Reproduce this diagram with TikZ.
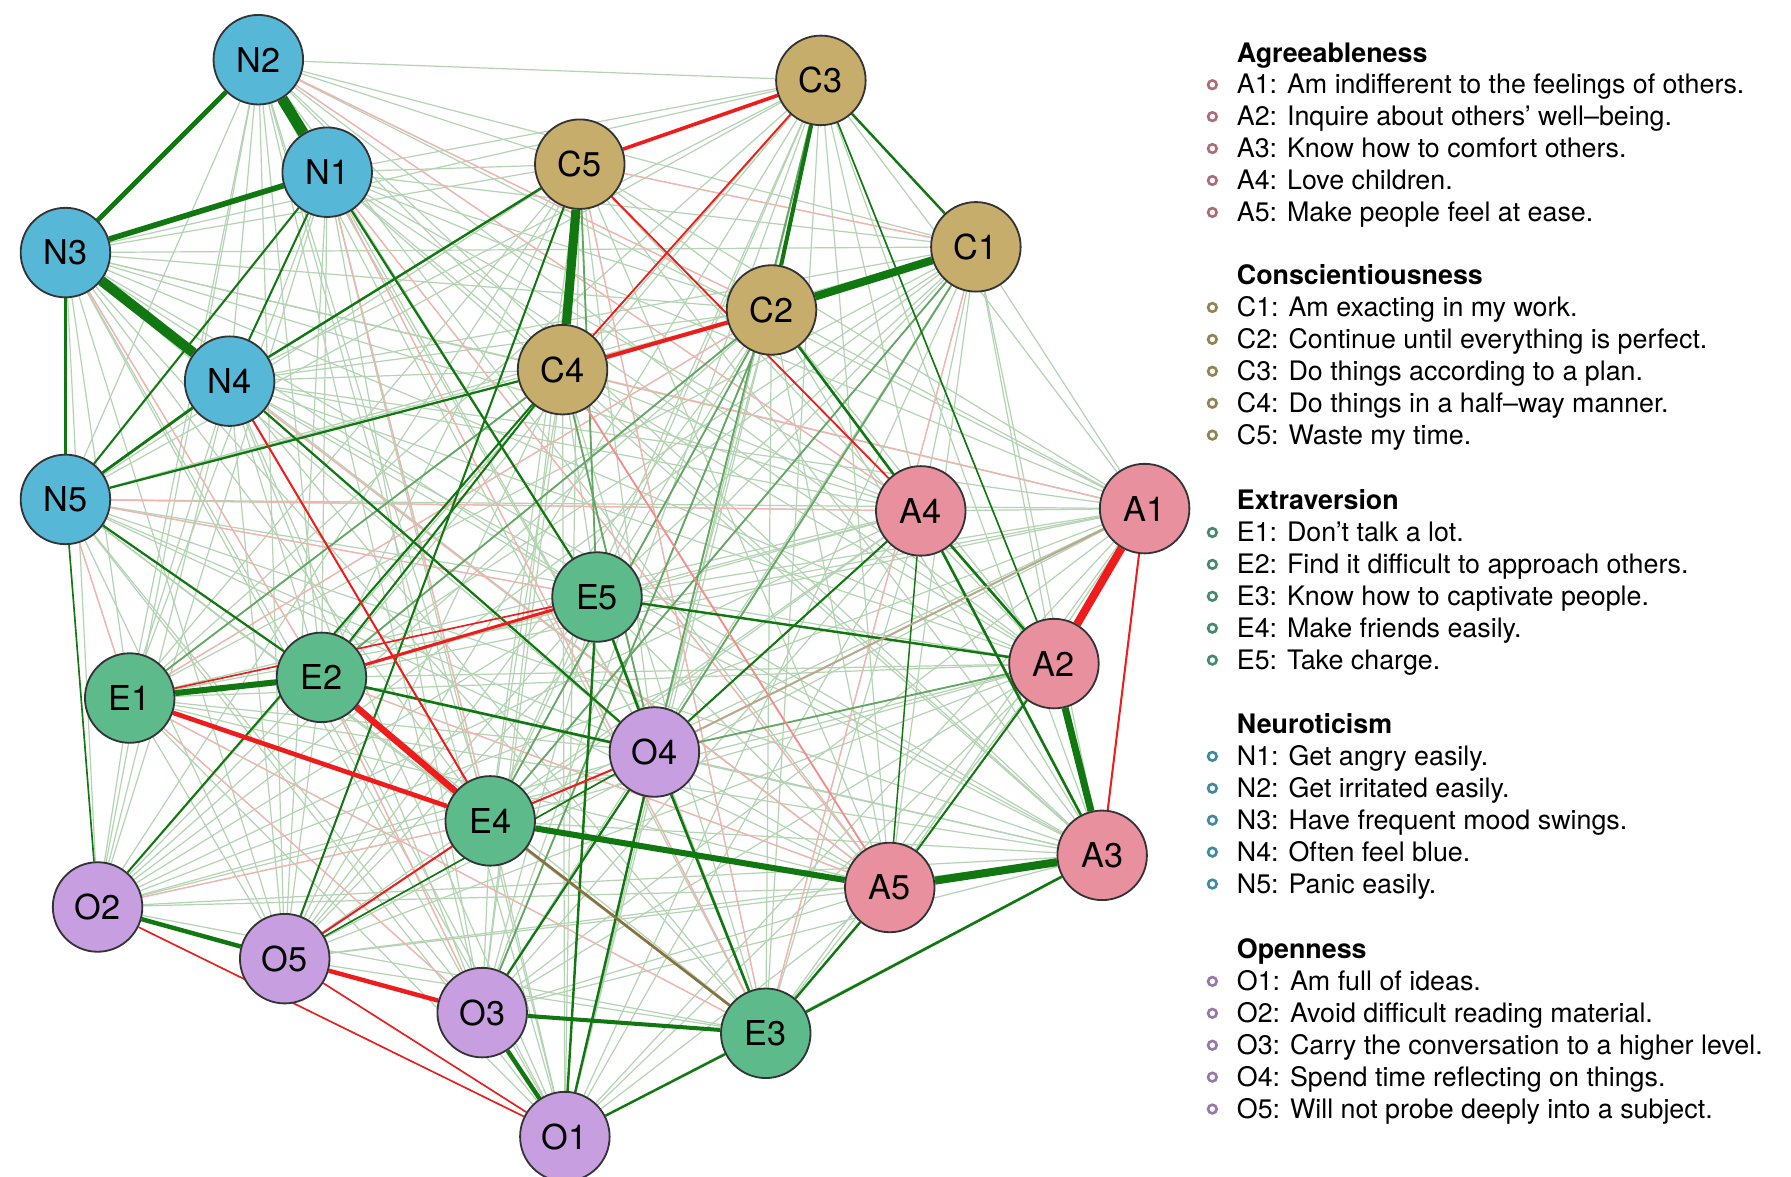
\documentclass[tikz,border=0pt]{standalone}
\usepackage{fontspec}
\setmainfont{TeX Gyre Heros}
\usepackage{tikz}
\usetikzlibrary{backgrounds}
\definecolor{agrcol}{HTML}{E8909E}
\definecolor{concol}{HTML}{C6AD6C}
\definecolor{extcol}{HTML}{5CBA8B}
\definecolor{neucol}{HTML}{56B8D6}
\definecolor{opecol}{HTML}{C79FE0}
\definecolor{posgreen}{HTML}{117711}
\definecolor{negred}{HTML}{EE1C1C}
\definecolor{mixbrown}{HTML}{8A7040}
\tikzset{
	item node/.style={circle,draw=black!80,line width=0.9pt,minimum size=1.56cm,inner sep=0pt,
		font=\fontsize{17}{17}\selectfont},
	pos/.style={draw=posgreen,line width=#1},
	neg/.style={draw=negred,line width=#1},
	mid/.style={draw=posgreen!65,line width=0.9pt},
	midneg/.style={draw=negred!50,line width=0.9pt},
	faint/.style={draw=posgreen!32,line width=0.6pt},
	faintneg/.style={draw=negred!35,line width=0.6pt},
	legend head/.style={anchor=base west,inner sep=0pt,font=\fontsize{13.3}{14}\selectfont\bfseries},
	legend item/.style={anchor=base west,inner sep=0pt,font=\fontsize{13.3}{14}\selectfont},
	legend dot/.style={circle,draw=#1,line width=1.3pt,minimum size=0.15cm,inner sep=0pt}
}

\begin{document}
\begin{tikzpicture}[x=0.02cm,y=-0.02cm]
	\useasboundingbox (0,0) rectangle (1560,1025);
	% nodes
	\node [item node,fill=neucol] (N2) at (225,52) {N2};
	\node [item node,fill=neucol] (N1) at (285,150) {N1};
	\node [item node,fill=neucol] (N3) at (57,220) {N3};
	\node [item node,fill=neucol] (N4) at (200,332) {N4};
	\node [item node,fill=neucol] (N5) at (57,435) {N5};
	\node [item node,fill=concol] (C3) at (715,70) {C3};
	\node [item node,fill=concol] (C5) at (505,143) {C5};
	\node [item node,fill=concol] (C1) at (850,215) {C1};
	\node [item node,fill=concol] (C2) at (672,270) {C2};
	\node [item node,fill=concol] (C4) at (490,322) {C4};
	\node [item node,fill=agrcol] (A4) at (802,445) {A4};
	\node [item node,fill=agrcol] (A1) at (997,443) {A1};
	\node [item node,fill=agrcol] (A2) at (918,578) {A2};
	\node [item node,fill=agrcol] (A3) at (960,745) {A3};
	\node [item node,fill=agrcol] (A5) at (775,773) {A5};
	\node [item node,fill=extcol] (E5) at (520,520) {E5};
	\node [item node,fill=extcol] (E1) at (113,608) {E1};
	\node [item node,fill=extcol] (E2) at (280,590) {E2};
	\node [item node,fill=extcol] (E4) at (427,715) {E4};
	\node [item node,fill=extcol] (E3) at (667,900) {E3};
	\node [item node,fill=opecol] (O4) at (570,655) {O4};
	\node [item node,fill=opecol] (O2) at (85,790) {O2};
	\node [item node,fill=opecol] (O5) at (248,835) {O5};
	\node [item node,fill=opecol] (O3) at (420,882) {O3};
	\node [item node,fill=opecol] (O1) at (492,990) {O1};

	\begin{pgfonlayer}{background}
		% weak edges between all items
		\foreach \a [count=\i] in {A1,A2,A3,A4,A5,C1,C2,C3,C4,C5,E1,E2,E3,E4,E5,N1,N2,N3,N4,N5,O1,O2,O3,O4,O5}
			\foreach \b [count=\j] in {A1,A2,A3,A4,A5,C1,C2,C3,C4,C5,E1,E2,E3,E4,E5,N1,N2,N3,N4,N5,O1,O2,O3,O4,O5}
				{\ifnum\j>\i \draw [faint] (\a) -- (\b); \fi}
		\foreach \a/\b in {N1/A5,N1/E3,N2/A4,N2/C2,N5/E1,N5/A4,N5/E5,C5/C1,C5/E3,C4/A1,E1/O3,E2/O3,
				O2/E4,N1/E4,N3/E2,N4/A5,C2/E1,E1/E3,E2/A5,C1/E3}
			\draw [faintneg] (\a) -- (\b);
		\foreach \a/\b in {C5/E5,C4/O4,A2/O4,C2/E2,C1/E4,C3/O4,C2/O3,C4/E1,C1/O4,C2/E4}
			\draw [mid] (\a) -- (\b);
		\draw [midneg] (C4) -- (A5);
		% medium edges
		\foreach \a/\b/\w in {N3/N5/1.4,N4/N5/1.4,N4/C5/1.2,N1/N4/1,N1/N5/1,N5/C4/1.1,N5/E2/1.1,
				N4/O4/1.1,N1/E5/1.1,N5/O2/0.8,C3/C1/1.2,C2/A4/1.3,C3/A2/0.8,A4/A2/1.3,A4/A3/1.3,
				A2/A5/1,A4/A5/0.7,A4/O4/1,E5/A2/1.2,E3/A3/1.3,E3/A5/1.2,E3/O4/1.3,E3/O1/1.2,
				O4/O1/1.2,E5/O1/1.2,O4/O3/1.1,E5/O4/1.3,E2/O4/1.3,E2/C4/1,O2/C4/1,O5/C5/1,O5/O4/0.8}
			\draw [pos=\w pt] (\a) -- (\b);
		\foreach \a/\b/\w in {N4/E4/1,C5/A4/0.9,C3/C4/0.9,A1/A3/1,E4/O4/1,E4/O5/1,O2/O1/0.8,
				O5/O1/0.8,E1/E5/0.8}
			\draw [neg=\w pt] (\a) -- (\b);
		\draw [draw=mixbrown,line width=1.3pt] (E4) -- (E3);
		\draw [draw=mixbrown!60,line width=1pt] (A1) -- (O4);
		% strong edges
		\foreach \a/\b/\w in {N2/N1/5.5,N3/N4/5,C5/C4/4.5,C2/C1/4,A5/A3/4,A2/A3/3.5,N1/N3/2.8,
				N2/N3/2.4,E1/E2/3,E4/A5/3,C3/C2/2,O3/O1/2.2,O2/O5/2.2,O3/E3/2}
			\draw [pos=\w pt] (\a) -- (\b);
		\foreach \a/\b/\w in {A1/A2/4,E2/E4/3.2,E1/E4/2.3,C4/C2/2,C3/C5/1.8,O5/O3/2.2,E2/E5/1.5}
			\draw [neg=\w pt] (\a) -- (\b);
	\end{pgfonlayer}

	% legend
	\foreach \head/\y in {Agreeableness/46,Conscientiousness/240,Extraversion/436,Neuroticism/631,Openness/827}
		\node [legend head] at (1077,\y+8) {\head};
	\foreach \txt [count=\i] in {A1: Am indifferent to the feelings of others.,
			A2: Inquire about others' well--being.,A3: Know how to comfort others.,
			A4: Love children.,A5: Make people feel at ease.}
		{\node [legend dot=agrcol!75!black] at (1056,{46+27.8*\i}) {};
		 \node [legend item] at (1077,{54+27.8*\i}) {\txt};}
	\foreach \txt [count=\i] in {C1: Am exacting in my work.,C2: Continue until everything is perfect.,
			C3: Do things according to a plan.,C4: Do things in a half--way manner.,C5: Waste my time.}
		{\node [legend dot=concol!75!black] at (1056,{240+27.8*\i}) {};
		 \node [legend item] at (1077,{248+27.8*\i}) {\txt};}
	\foreach \txt [count=\i] in {E1: Don't talk a lot.,E2: Find it difficult to approach others.,
			E3: Know how to captivate people.,E4: Make friends easily.,E5: Take charge.}
		{\node [legend dot=extcol!75!black] at (1056,{436+27.8*\i}) {};
		 \node [legend item] at (1077,{444+27.8*\i}) {\txt};}
	\foreach \txt [count=\i] in {N1: Get angry easily.,N2: Get irritated easily.,
			N3: Have frequent mood swings.,N4: Often feel blue.,N5: Panic easily.}
		{\node [legend dot=neucol!75!black] at (1056,{631+27.8*\i}) {};
		 \node [legend item] at (1077,{639+27.8*\i}) {\txt};}
	\foreach \txt [count=\i] in {O1: Am full of ideas.,O2: Avoid difficult reading material.,
			O3: Carry the conversation to a higher level.,O4: Spend time reflecting on things.,
			O5: Will not probe deeply into a subject.}
		{\node [legend dot=opecol!75!black] at (1056,{827+27.8*\i}) {};
		 \node [legend item] at (1077,{835+27.8*\i}) {\txt};}
\end{tikzpicture}
\end{document}
